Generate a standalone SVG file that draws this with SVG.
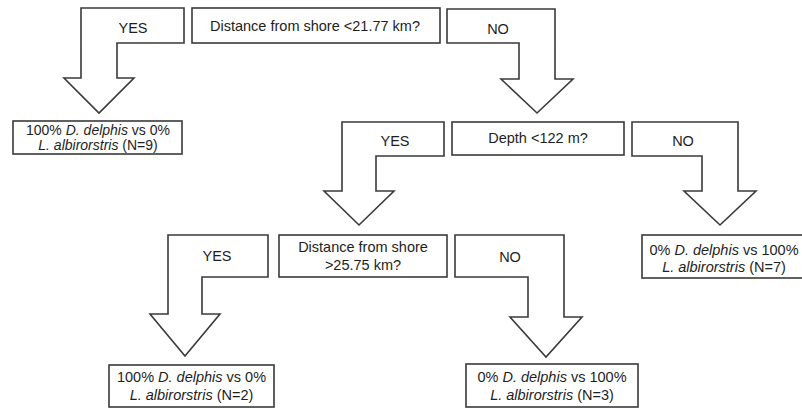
<svg xmlns="http://www.w3.org/2000/svg" width="802" height="408" viewBox="0 0 802 408">
<style>
.box{fill:#fff;stroke:#3a3a3a;stroke-width:1.6}
.arr{fill:#fff;stroke:#3a3a3a;stroke-width:1.6;stroke-linejoin:miter}
text{font-family:"Liberation Sans",Arial,sans-serif;font-size:14.5px;fill:#1e1e1e;text-anchor:middle}
.i{font-style:italic}
.s{font-size:14px}
</style>
<rect width="802" height="408" fill="#fff"/>
<g id="connectors">
<polygon id="yes1" class="arr" points="81,8 184,8 184,43 117,43 117,78 134,78 99,113 64,78 81,78"/>
<text x="133" y="33">YES</text>
<polygon id="no1" class="arr" points="447,9 555,9 555,79 573,79 537,113 501,79 519,79 519,43 447,43"/>
<text x="498" y="34">NO</text>
<polygon id="yes2" class="arr" points="342,122 444,122 444,156 376,156 376,191 394,191 359,225 324,191 342,191"/>
<text x="395" y="146">YES</text>
<polygon id="no2" class="arr" points="632,122 738,122 738,191 756,191 720,225 684,191 702,191 702,156 632,156"/>
<text x="683" y="146">NO</text>
<polygon id="yes3" class="arr" points="168,235 268,235 268,277 202,277 202,314 220,314 185,356 150,314 168,314"/>
<text x="217" y="261">YES</text>
<polygon id="no3" class="arr" points="455,235 564,235 564,317 582,317 546,357 510,317 528,317 528,277 455,277"/>
<text x="510" y="262">NO</text>
</g>
<g id="q1">
<rect class="box" x="192" y="8" width="248" height="35"/>
<text x="315" y="31">Distance from shore &lt;21.77 km?</text>
</g>
<g id="q2">
<rect class="box" x="452" y="122" width="172" height="33"/>
<text x="538" y="143">Depth &lt;122 m?</text>
</g>
<g id="q3">
<rect class="box" x="279" y="235" width="168" height="42"/>
<text x="363" y="252">Distance from shore</text>
<text x="363" y="270">&gt;25.75 km?</text>
</g>
<g id="leaf1">
<rect class="box" x="13" y="121" width="169" height="33"/>
<text class="s" x="98" y="135">100% <tspan class="i">D. delphis</tspan> vs 0%</text>
<text class="s" x="98" y="150"><tspan class="i">L. albirorstris</tspan> (N=9)</text>
</g>
<g id="leaf2">
<rect class="box" x="642" y="235" width="166" height="43"/>
<text x="724" y="255">0% <tspan class="i">D. delphis</tspan> vs 100%</text>
<text x="724" y="272"><tspan class="i">L. albirorstris</tspan> (N=7)</text>
</g>
<g id="leaf3">
<rect class="box" x="109" y="365" width="165" height="42"/>
<text x="191.5" y="382">100% <tspan class="i">D. delphis</tspan> vs 0%</text>
<text x="191.5" y="400"><tspan class="i">L. albirorstris</tspan> (N=2)</text>
</g>
<g id="leaf4">
<rect class="box" x="466" y="364" width="172" height="43"/>
<text x="552" y="382">0% <tspan class="i">D. delphis</tspan> vs 100%</text>
<text x="552" y="400"><tspan class="i">L. albirorstris</tspan> (N=3)</text>
</g>
</svg>
